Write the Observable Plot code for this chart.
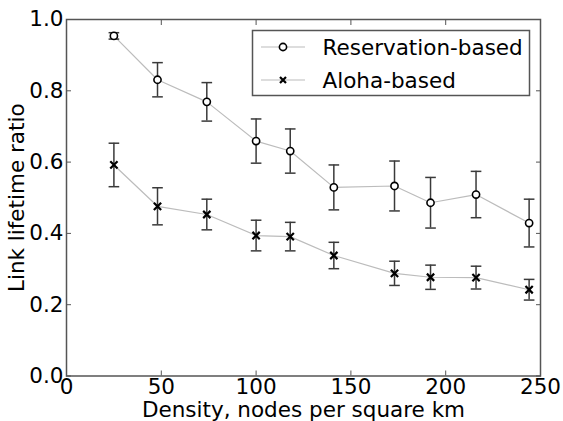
<!DOCTYPE html>
<html>
<head>
<meta charset="utf-8">
<script src="https://cdn.jsdelivr.net/npm/d3@7"></script>
<script src="https://cdn.jsdelivr.net/npm/@observablehq/plot@0.6"></script>
<style>
  body { margin: 0; background: #fff; }
  #wrap { position: relative; width: 563px; height: 421px; }
  #legend { position: absolute; left: 0; top: 0; }
</style>
</head>
<body>
<div id="wrap"></div>
<script>
const density = [25, 48, 74, 100, 118, 141, 173, 192, 216, 244];
const reservation = [0.954, 0.831, 0.769, 0.659, 0.631, 0.529, 0.533, 0.486, 0.509, 0.429];
const reservationErr = [0.009, 0.048, 0.054, 0.062, 0.062, 0.063, 0.070, 0.071, 0.065, 0.067];
const aloha = [0.592, 0.476, 0.453, 0.394, 0.391, 0.338, 0.288, 0.277, 0.276, 0.242];
const alohaErr = [0.061, 0.052, 0.043, 0.043, 0.040, 0.037, 0.034, 0.034, 0.032, 0.029];
const xTicks = [0, 50, 100, 150, 200, 250];
const yTicks = [0.0, 0.2, 0.4, 0.6, 0.8, 1.0];
const seriesNames = ["Reservation-based", "Aloha-based"];

const res = density.map((x, i) => ({x, y: reservation[i], lo: reservation[i] - reservationErr[i], hi: reservation[i] + reservationErr[i]}));
const alo = density.map((x, i) => ({x, y: aloha[i], lo: aloha[i] - alohaErr[i], hi: aloha[i] + alohaErr[i]}));

const cap = { draw(ctx, size) { const r = Math.sqrt(size); ctx.moveTo(-r, 0); ctx.lineTo(r, 0); } };

const errColor = "#3a3a3a";
const lineColor = "#bcbcbc";

function series(data, symbol) {
  return [
    Plot.line(data, {x: "x", y: "y", stroke: lineColor, strokeWidth: 1.2}),
    Plot.ruleX(data, {x: "x", y1: "lo", y2: "hi", stroke: errColor, strokeWidth: 1.5}),
    Plot.dot(data, {x: "x", y: "lo", symbol: cap, r: 3, stroke: errColor, strokeWidth: 1.5}),
    Plot.dot(data, {x: "x", y: "hi", symbol: cap, r: 3, stroke: errColor, strokeWidth: 1.5}),
    symbol === "circle"
      ? Plot.dot(data, {x: "x", y: "y", symbol: "circle", r: 3.6, stroke: "#000", fill: "#fff", strokeWidth: 1.6})
      : Plot.dot(data, {x: "x", y: "y", symbol: "times", r: 3.4, stroke: "#000", strokeWidth: 2.2})
  ];
}

const chart = Plot.plot({
  width: 563,
  height: 421,
  marginLeft: 66,
  marginRight: 23,
  marginTop: 19,
  marginBottom: 45.5,
  style: {fontFamily: "DejaVu Sans", fontSize: "21px", color: "#000", background: "#fff"},
  x: {domain: [0, 250]},
  y: {domain: [0, 1]},
  marks: [
    ...series(res, "circle"),
    ...series(alo, "times"),
    Plot.axisX({anchor: "bottom", ticks: xTicks, tickSize: 0, tickPadding: 3, label: "Density, nodes per square km", labelAnchor: "center", labelArrow: "none", labelOffset: 41, fontSize: 21.5}),
    Plot.axisY({anchor: "left", ticks: yTicks, tickSize: 0, tickPadding: 3, tickFormat: d3.format(".1f"), label: "Link lifetime ratio", labelAnchor: "center", labelArrow: "none", labelOffset: 58, fontSize: 21.5}),
    Plot.axisX({anchor: "bottom", ticks: xTicks, tickSize: -5, tickFormat: () => "", label: null, stroke: "#555"}),
    Plot.axisX({anchor: "top", ticks: xTicks, tickSize: -5, tickFormat: () => "", label: null, stroke: "#555"}),
    Plot.axisY({anchor: "left", ticks: yTicks, tickSize: -5, tickFormat: () => "", label: null, stroke: "#555"}),
    Plot.axisY({anchor: "right", ticks: yTicks, tickSize: -5, tickFormat: () => "", label: null, stroke: "#555"}),
    Plot.frame({stroke: "#555", strokeWidth: 1.5})
  ]
});

const wrap = document.getElementById("wrap");
wrap.appendChild(chart);

// Legend overlay
const svg = d3.select(wrap).append("svg")
  .attr("id", "legend")
  .attr("width", 563).attr("height", 421)
  .style("font-family", "DejaVu Sans");
svg.append("rect")
  .attr("x", 252.5).attr("y", 30.5).attr("width", 277).attr("height", 65)
  .attr("fill", "#fff").attr("stroke", "#555").attr("stroke-width", 1.5);
const rows = [47, 80];
seriesNames.forEach((name, i) => {
  const y = rows[i];
  svg.append("line").attr("x1", 261).attr("x2", 305).attr("y1", y).attr("y2", y)
    .attr("stroke", lineColor).attr("stroke-width", 1.2);
  if (i === 0) {
    svg.append("circle").attr("cx", 283).attr("cy", y).attr("r", 3.6)
      .attr("fill", "#fff").attr("stroke", "#000").attr("stroke-width", 1.6);
  } else {
    const r = 3;
    svg.append("path").attr("d", `M${283 - r},${y - r}L${283 + r},${y + r}M${283 - r},${y + r}L${283 + r},${y - r}`)
      .attr("stroke", "#000").attr("stroke-width", 2.2);
  }
  svg.append("text").attr("x", 322.5).attr("y", y).attr("dy", "0.35em")
    .attr("font-size", 21.5).attr("fill", "#000").text(name);
});
</script>
</body>
</html>
